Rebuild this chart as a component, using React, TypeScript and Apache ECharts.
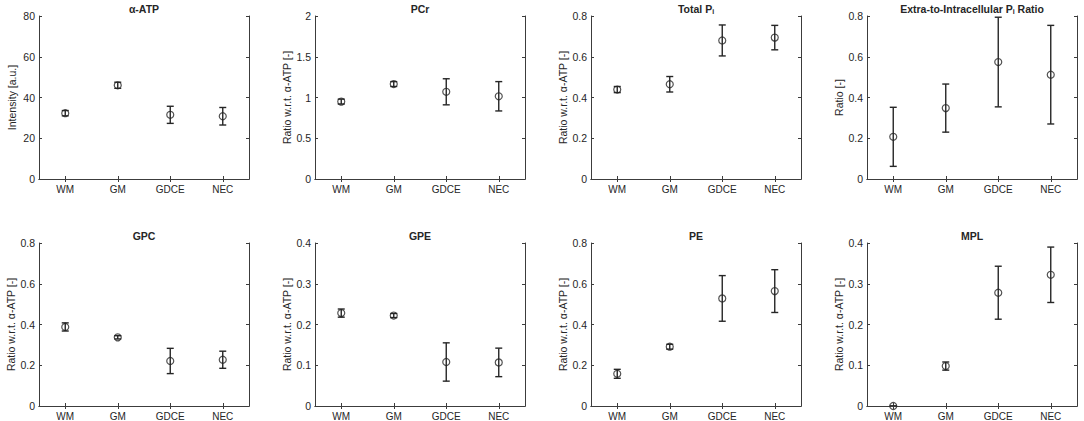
import React, { useEffect, useRef } from "react";
import * as echarts from "echarts";

const CATEGORIES = ["WM", "GM", "GDCE", "NEC"];

const TITLES = [
  "α-ATP",
  "PCr",
  "Total P{sub|i}",
  "Extra-to-Intracellular P{sub|i} Ratio",
  "GPC",
  "GPE",
  "PE",
  "MPL",
];

const Y_LABELS = [
  "Intensity [a.u.]",
  "Ratio w.r.t. α-ATP [-]",
  "Ratio w.r.t. α-ATP [-]",
  "Ratio [-]",
  "Ratio w.r.t. α-ATP [-]",
  "Ratio w.r.t. α-ATP [-]",
  "Ratio w.r.t. α-ATP [-]",
  "Ratio w.r.t. α-ATP [-]",
];

const Y_MAX = [80, 2, 0.8, 0.8, 0.8, 0.4, 0.8, 0.4];
const Y_STEP = [20, 0.5, 0.2, 0.2, 0.2, 0.1, 0.2, 0.1];

const alphaAtpMean = [32.3, 46.0, 31.5, 30.8];
const alphaAtpErr = [1.3, 1.5, 4.2, 4.3];
const pcrMean = [0.95, 1.165, 1.07, 1.015];
const pcrErr = [0.03, 0.03, 0.16, 0.18];
const totalPiMean = [0.439, 0.465, 0.68, 0.694];
const totalPiErr = [0.015, 0.038, 0.076, 0.06];
const extraIntraMean = [0.207, 0.348, 0.574, 0.512];
const extraIntraErr = [0.145, 0.118, 0.22, 0.242];
const gpcMean = [0.388, 0.337, 0.221, 0.227];
const gpcErr = [0.02, 0.008, 0.062, 0.042];
const gpeMean = [0.228, 0.222, 0.108, 0.107];
const gpeErr = [0.01, 0.005, 0.047, 0.035];
const peMean = [0.158, 0.291, 0.528, 0.564];
const peErr = [0.022, 0.012, 0.112, 0.105];
const mplMean = [0, 0.098, 0.278, 0.322];
const mplErr = [0, 0.01, 0.065, 0.068];

const MEANS = [alphaAtpMean, pcrMean, totalPiMean, extraIntraMean, gpcMean, gpeMean, peMean, mplMean];
const ERRS = [alphaAtpErr, pcrErr, totalPiErr, extraIntraErr, gpcErr, gpeErr, peErr, mplErr];

const FONT = "'Liberation Sans', Arial, Helvetica, sans-serif";
const INK = "#262626";
const AXIS = "#3c3c3c";

const GRID_LEFT = [39, 315, 591, 867];
const GRID_W = 210;
const GRID_TOP = [16, 243];
const GRID_H = 163;

function buildOption() {
  const grid: any[] = [];
  const xAxis: any[] = [];
  const yAxis: any[] = [];
  const series: any[] = [];
  const title: any[] = [];

  for (let p = 0; p < 8; p++) {
    const row = Math.floor(p / 4);
    const col = p % 4;
    const left = GRID_LEFT[col];
    const top = GRID_TOP[row];
    grid.push({ left, top, width: GRID_W, height: GRID_H, containLabel: false });

    title.push({
      text: TITLES[p],
      left: left + GRID_W / 2,
      top: top - 14,
      padding: 0,
      textAlign: "center",
      textStyle: {
        fontFamily: FONT,
        fontSize: 10.5,
        fontWeight: "bold",
        color: INK,
        lineHeight: 13,
        rich: {
          sub: { fontFamily: FONT, fontSize: 7, fontWeight: "bold", color: INK, lineHeight: 13, verticalAlign: "bottom" },
        },
      },
    });

    const tickStyle = { show: true, inside: true, length: 3, alignWithLabel: true, lineStyle: { color: AXIS, width: 1 } };
    const lineStyle = { show: true, lineStyle: { color: AXIS, width: 1 } };

    xAxis.push({
      type: "category",
      gridIndex: p,
      data: CATEGORIES,
      position: "bottom",
      boundaryGap: true,
      axisLine: lineStyle,
      axisTick: tickStyle,
      axisLabel: { fontFamily: FONT, fontSize: 10, color: INK, margin: 5 },
      splitLine: { show: false },
    });
    xAxis.push({
      type: "category",
      gridIndex: p,
      data: CATEGORIES,
      position: "top",
      boundaryGap: true,
      axisLine: lineStyle,
      axisTick: tickStyle,
      axisLabel: { show: false },
      splitLine: { show: false },
    });
    yAxis.push({
      type: "value",
      gridIndex: p,
      min: 0,
      max: Y_MAX[p],
      interval: Y_STEP[p],
      position: "left",
      name: Y_LABELS[p],
      nameLocation: "middle",
      nameGap: 22,
      nameTextStyle: { fontFamily: FONT, fontSize: 10.5, color: INK },
      axisLine: lineStyle,
      axisTick: { show: true, inside: true, length: 3, lineStyle: { color: AXIS, width: 1 } },
      axisLabel: { fontFamily: FONT, fontSize: 10.5, color: INK, margin: 4 },
      splitLine: { show: false },
    });
    yAxis.push({
      type: "value",
      gridIndex: p,
      min: 0,
      max: Y_MAX[p],
      interval: Y_STEP[p],
      position: "right",
      axisLine: lineStyle,
      axisTick: { show: true, inside: true, length: 3, lineStyle: { color: AXIS, width: 1 } },
      axisLabel: { show: false },
      splitLine: { show: false },
    });

    const mean = MEANS[p];
    const err = ERRS[p];
    const barData = mean.map((m, i) => [i, m - err[i], m + err[i]]);

    series.push({
      type: "custom",
      xAxisIndex: 2 * p,
      yAxisIndex: 2 * p,
      clip: true,
      encode: { x: 0, y: [1, 2] },
      data: barData,
      renderItem: (params: any, api: any) => {
        const x = api.value(0);
        const lo = api.value(1);
        const hi = api.value(2);
        const a = api.coord([x, hi]);
        const b = api.coord([x, lo]);
        const w = 3.5;
        const style = { stroke: INK, lineWidth: 1.4 };
        return {
          type: "group",
          children: [
            { type: "line", shape: { x1: a[0], y1: a[1], x2: b[0], y2: b[1] }, style },
            { type: "line", shape: { x1: a[0] - w, y1: a[1], x2: a[0] + w, y2: a[1] }, style },
            { type: "line", shape: { x1: b[0] - w, y1: b[1], x2: b[0] + w, y2: b[1] }, style },
          ],
        };
      },
      z: 2,
    });
    series.push({
      type: "scatter",
      xAxisIndex: 2 * p,
      yAxisIndex: 2 * p,
      data: mean.map((m, i) => [i, m]),
      symbol: "circle",
      symbolSize: 7,
      itemStyle: { color: "rgba(255,255,255,0)", borderColor: INK, borderWidth: 1.2 },
      z: 3,
    });
  }

  return {
    animation: false,
    backgroundColor: "#ffffff",
    title,
    grid,
    xAxis,
    yAxis,
    series,
  };
}

export default function App() {
  const ref = useRef<HTMLDivElement>(null);
  useEffect(() => {
    if (!ref.current) return;
    const chart = echarts.init(ref.current, null, { renderer: "svg" });
    chart.setOption(buildOption());
    return () => chart.dispose();
  }, []);
  return (
    <div
      ref={ref}
      style={{ position: "fixed", left: 0, top: 0, width: 1084, height: 421, background: "#fff" }}
    />
  );
}
